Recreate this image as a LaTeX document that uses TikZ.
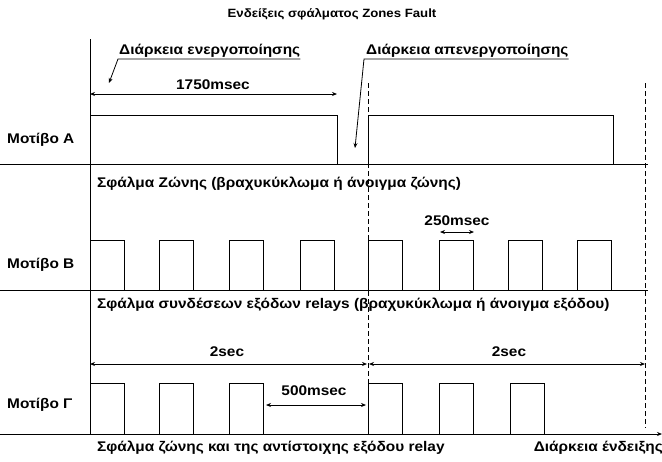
\documentclass[tikz,border=0pt]{standalone}
\usepackage{fontspec}
\setmainfont[FakeStretch=1.1]{Liberation Sans}
\usetikzlibrary{arrows.meta}
\begin{document}
\begin{tikzpicture}[x=1pt,y=-1pt,
  lbl/.style={font=\fontsize{14}{16}\selectfont\bfseries, inner sep=0pt},
  ttl/.style={font=\fontsize{12}{14}\selectfont\bfseries, inner sep=0pt},
  ln/.style={line width=0.8pt},
  dsh/.style={line width=0.8pt, dash pattern=on 5pt off 3pt},
  dim/.style={line width=0.8pt, {Stealth[length=5pt,width=4pt]}-{Stealth[length=5pt,width=4pt]}},
  lead/.style={line width=0.8pt, -{Stealth[length=5pt,width=4pt]}}]
\useasboundingbox (0,0) rectangle (662,461);
% title
\node[ttl] (title) at (332,14) {Ενδείξεις σφάλματος Zones Fault};
% axes
\coordinate (ax0) at (90,39);
\coordinate (ax1) at (90,434);
\draw[ln] (ax0) -- (ax1);
\coordinate (bA0) at (0,164); \coordinate (bA1) at (648,164);
\coordinate (bB0) at (0,290); \coordinate (bB1) at (648,290);
\coordinate (bG0) at (0,434); \coordinate (bG1) at (662,434);
\draw[ln] (bA0) -- (bA1);
\draw[ln] (bB0) -- (bB1);
\draw[lead] (bG0) -- (bG1);
% dashed
\coordinate (d1a) at (368,83); \coordinate (d1b) at (368,434);
\coordinate (d2a) at (645,83); \coordinate (d2b) at (645,428);
\draw[dsh] (d1a) -- (d1b);
\draw[dsh] (d2a) -- (d2b);
% row labels
\node[lbl, anchor=west] (mA) at (7,140) {Μοτίβο Α};
\node[lbl, anchor=west] (mB) at (7,265) {Μοτίβο Β};
\node[lbl, anchor=west] (mG) at (7,405) {Μοτίβο Γ};
% row A
\draw[ln] (90,164) -- (90,115) -- (337,115) -- (337,164);
\draw[ln] (368,164) -- (368,115) -- (613,115) -- (613,164);
\node[lbl] (t1750) at (213,85) {1750msec};
\coordinate (a1750l) at (90,94); \coordinate (a1750r) at (337,94);
\draw[dim] (a1750l) -- (a1750r);
\node[lbl, anchor=base west] (en) at (119,54) {Διάρκεια ενεργοποίησης};
\coordinate (enU) at (118,59); \coordinate (enT) at (109,83);
\draw[lead] (en.south east |- enU) -- (enU) -- (enT);
\node[lbl, anchor=base west] (apen) at (366,54) {Διάρκεια απενεργοποίησης};
\coordinate (apU) at (364,59); \coordinate (apT) at (355,148);
\draw[lead] (apen.south east |- apU) -- (apU) -- (apT);
% row B
\node[lbl, anchor=west] (zB) at (97,184) {Σφάλμα Ζώνης (βραχυκύκλωμα ή άνοιγμα ζώνης)};
\foreach \x in {90,159,229,300,368,439,508,577}{
  \draw[ln] (\x,290) -- (\x,240) -- (\x+34,240) -- (\x+34,290);
}
\node[lbl] (t250) at (457,221) {250msec};
\coordinate (a250l) at (440,232); \coordinate (a250r) at (474,232);
\draw[dim] (a250l) -- (a250r);
\node[lbl, anchor=west] (zG) at (97,305) {Σφάλμα συνδέσεων εξόδων relays (βραχυκύκλωμα ή άνοιγμα εξόδου)};
% row Gamma
\foreach \x in {90,159,229,368,439,510}{
  \draw[ln] (\x,434) -- (\x,383) -- (\x+34,383) -- (\x+34,434);
}
\node[lbl] (t2a) at (227,352) {2sec};
\node[lbl] (t2b) at (509,352) {2sec};
\coordinate (a2al) at (90,364); \coordinate (a2ar) at (367,364);
\coordinate (a2bl) at (369,364); \coordinate (a2br) at (645,364);
\draw[dim] (a2al) -- (a2ar);
\draw[dim] (a2bl) -- (a2br);
\node[lbl] (t500) at (314,391) {500msec};
\coordinate (a500l) at (266,405); \coordinate (a500r) at (366,405);
\draw[dim] (a500l) -- (a500r);
\node[lbl, anchor=west] (zR) at (97,448) {Σφάλμα ζώνης και της αντίστοιχης εξόδου relay};
\node[lbl, anchor=east] (dur) at (663,448) {Διάρκεια ένδειξης};
\end{tikzpicture}
\end{document}
